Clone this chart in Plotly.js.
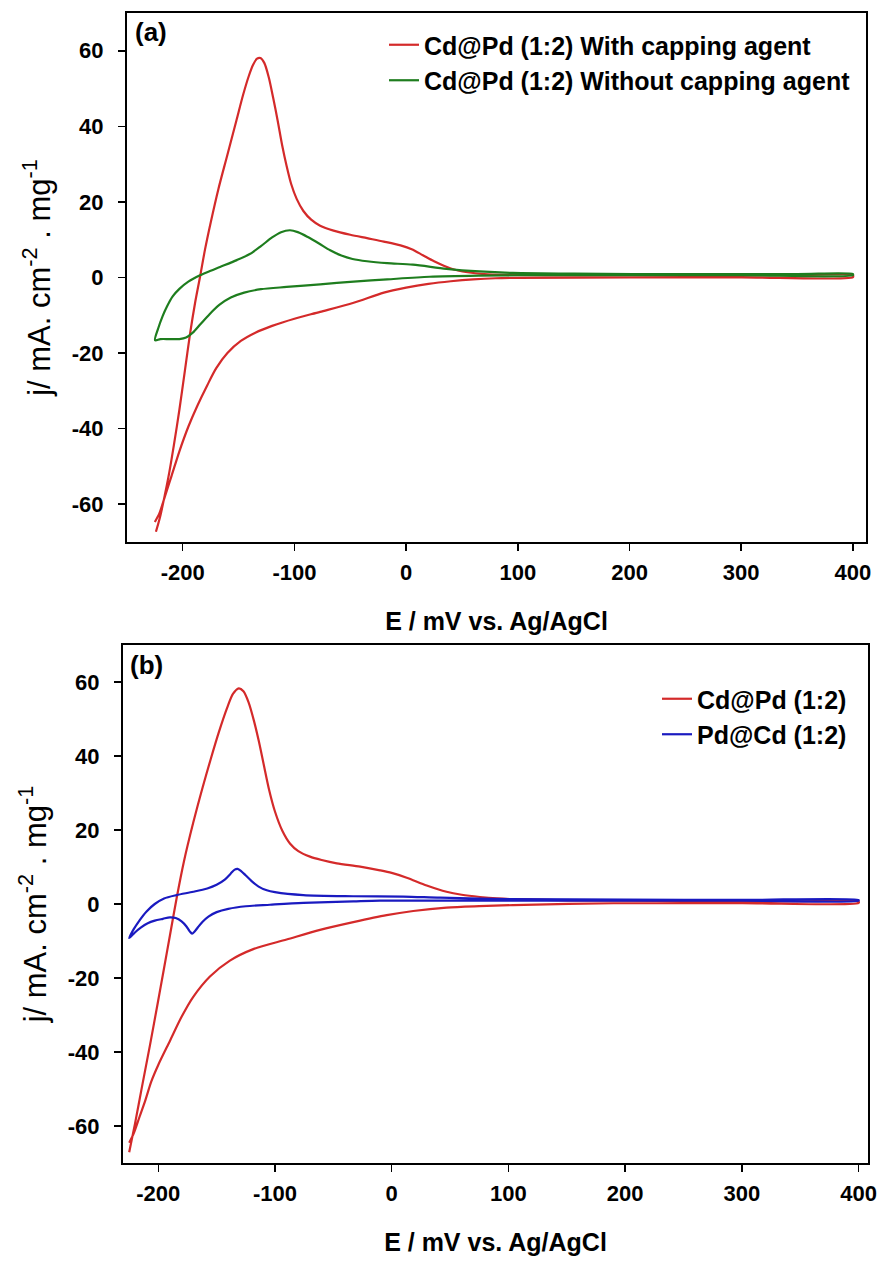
<!DOCTYPE html>
<html><head><meta charset="utf-8">
<script src="https://cdn.plot.ly/plotly-3.0.1.min.js"></script>
<style>html,body{margin:0;padding:0;background:#fff;} #chart{width:881px;height:1275px;}</style>
</head><body><div id="chart"></div>
<script>
// ---------- tick labels ----------
const xTickVals = [-200, -100, 0, 100, 200, 300, 400];
const xTickText = ['-200', '-100', '0', '100', '200', '300', '400'];
const yTickVals = [-60, -40, -20, 0, 20, 40, 60];
const yTickText = ['-60', '-40', '-20', '0', '20', '40', '60'];

// ---------- series names ----------
const namesA = ['Cd@Pd (1:2) With capping agent', 'Cd@Pd (1:2) Without capping agent'];
const namesB = ['Cd@Pd (1:2)', 'Pd@Cd (1:2)'];

// ---------- (a) Cd@Pd with capping agent (anodic sweep, then cathodic sweep) ----------
const capE = [-224, -220.3, -216, -212, -208, -203, -198, -193.4, -189, -184.5, -180, -175, -168, -160, -152, -146, -141, -137, -133.5, -130.5, -127, -123, -119, -115, -111, -107, -103, -98, -92, -85, -77, -65, -50, -35, -20, -5, 5, 15, 25, 40, 55, 70, 90, 150, 250, 350, 400,
  400, 300, 200, 100, 80, 60, 40, 20, 0, -20, -47, -77, -100, -120, -135, -148, -160, -170, -178, -187, -195, -203, -210, -216, -221, -225];
const capJ = [-67.3, -63.4, -57.5, -51.5, -44.5, -35, -24.5, -14.8, -6.8, 0.2, 7.5, 14.5, 23.5, 32.5, 41.5, 48.3, 53.2, 56.3, 57.9, 58.1, 56.8, 53, 47.5, 41.5, 35, 29.5, 24.8, 20.8, 17.6, 15.3, 13.7, 12.4, 11.3, 10.4, 9.5, 8.5, 7.5, 5.9, 4.3, 2.4, 1.4, 0.9, 0.7, 0.6, 0.6, 0.6, 0.6,
  0.1, 0.05, 0, -0.1, -0.2, -0.5, -1.0, -1.7, -2.7, -4.0, -6.7, -9.1, -10.9, -12.8, -14.6, -16.8, -20, -24, -28.5, -34, -39.5, -46, -52.5, -58, -62.5, -64.7];

// ---------- (a) Cd@Pd without capping agent ----------
const noCapE = [-224.8, -222, -218, -214, -209, -203, -195, -184.5, -175, -166.6, -151.6, -140, -130, -120, -112, -104, -97, -88, -78, -68, -58, -48, -35, -17, 6, 36, 65.8, 95.6, 150, 250, 350, 400,
  400, 300, 200, 100, 65.8, 21, -17, -47, -77, -107, -130, -145, -157, -167, -176, -184, -191, -197, -203, -212, -220, -224.8];
const noCapJ = [-16.6, -13.5, -10.2, -7.6, -5.0, -3.0, -1.1, 0.6, 1.8, 2.8, 4.6, 6.2, 8.3, 10.6, 12.0, 12.5, 12.0, 10.7, 9.0, 7.2, 5.8, 4.9, 4.3, 3.8, 3.4, 2.3, 1.6, 1.2, 1.0, 0.9, 0.9, 0.9,
  0.6, 0.6, 0.6, 0.6, 0.5, 0.2, -0.5, -1.1, -1.8, -2.5, -3.1, -4.0, -5.3, -7.2, -9.7, -12.3, -14.6, -15.9, -16.3, -16.3, -16.3, -16.6];

// ---------- (b) Cd@Pd (1:2) ----------
const cdpdE = [-224.9, -220, -214, -207, -200, -195.7, -190, -184.3, -178, -170, -162, -155, -148, -141, -136, -131, -127, -122.6, -118, -113.9, -109.5, -105.2, -100, -93.7, -87, -80, -70, -60, -47, -27, -10, 0, 12.9, 30, 47, 60, 75.6, 90, 104, 150, 250, 350, 400,
  400, 300, 190, 104, 75, 47, 18.5, -4.3, -32.9, -61.4, -90, -118.6, -138.6, -155.7, -170, -180, -190, -200, -206, -211, -216, -221, -224.9];
const cdpdJ = [-67.1, -59.5, -49.5, -38, -26, -18.5, -8.5, 1.5, 11.5, 22, 31.5, 39.2, 46.5, 53, 56.8, 58.3, 57.5, 54.5, 49.5, 44.1, 37.5, 31.1, 25, 19.8, 16.3, 14.3, 12.8, 11.9, 11.0, 10.1, 9.1, 8.4, 7.1, 5.0, 3.3, 2.5, 1.9, 1.5, 1.3, 1.0, 0.8, 0.7, 0.7,
  0.3, 0.2, 0.2, -0.3, -0.6, -1.0, -1.9, -3.0, -4.9, -7.0, -9.6, -12.2, -15.3, -19.6, -25.1, -30.5, -37, -43.5, -48, -53, -57.5, -62, -64.5];

// ---------- (b) Pd@Cd (1:2) ----------
const pdcdE = [-224.9, -221, -216, -210, -203, -195, -184.3, -170, -158, -150, -143, -138, -134.5, -132, -129, -125, -120, -114, -107, -100, -75.7, -32.9, 10, 41.4, 100, 200, 300, 400,
  400, 300, 200, 100, 41.4, -10, -32.9, -75.7, -104.3, -125, -140, -150, -157, -162, -166, -169, -171, -173, -176, -180, -185, -190, -196, -203, -209, -215, -220, -224.9];
const pdcdJ = [-9.2, -6.8, -4.4, -2.0, 0, 1.5, 2.4, 3.3, 4.2, 5.2, 6.6, 8.2, 9.3, 9.5, 8.9, 7.7, 6.2, 4.7, 3.7, 3.2, 2.4, 2.1, 2.0, 1.7, 1.3, 1.2, 1.1, 1.1,
  0.9, 0.9, 0.9, 0.9, 0.9, 0.9, 0.7, 0.3, -0.2, -0.6, -1.3, -2.2, -3.4, -4.8, -6.3, -7.5, -8.0, -7.4, -6.0, -4.7, -3.8, -3.6, -4.0, -4.5, -5.2, -6.4, -7.7, -9.2];

// ---------- styling ----------
const FONT = 'Liberation Sans, Arial, sans-serif';
const RED = '#d42a2a', GREEN = '#1e7d1e', BLUE = '#1a1ac0';
const W = 881, H = 1275;

function line(color) { return {color: color, width: 2.2, shape: 'spline', smoothing: 0.8}; }

const traces = [
  {x: capE, y: capJ, name: namesA[0], mode: 'lines', line: line(RED), xaxis: 'x', yaxis: 'y', legend: 'legend'},
  {x: noCapE, y: noCapJ, name: namesA[1], mode: 'lines', line: line(GREEN), xaxis: 'x', yaxis: 'y', legend: 'legend'},
  {x: cdpdE, y: cdpdJ, name: namesB[0], mode: 'lines', line: line(RED), xaxis: 'x2', yaxis: 'y2', legend: 'legend2'},
  {x: pdcdE, y: pdcdJ, name: namesB[1], mode: 'lines', line: line(BLUE), xaxis: 'x2', yaxis: 'y2', legend: 'legend2'}
];

const tickFont = {family: FONT, size: 22, color: '#000', weight: 'bold'};

function xAxis(domain, range, anchor) {
  return {domain: domain, range: range, anchor: anchor, tickmode: 'array', tickvals: xTickVals, ticktext: xTickText,
    showline: true, mirror: true, linecolor: '#000', linewidth: 2, ticks: 'outside', ticklen: 7, tickwidth: 1.5, tickcolor: '#000',
    showgrid: false, zeroline: false, tickfont: tickFont, ticklabelstandoff: 3,
    title: {text: 'E / mV vs. Ag/AgCl', font: {family: FONT, size: 25, color: '#000', weight: 'bold'}, standoff: 28}};
}
function yAxis(domain, range, anchor) {
  return {domain: domain, range: range, anchor: anchor, tickmode: 'array', tickvals: yTickVals, ticktext: yTickText,
    showline: true, mirror: true, linecolor: '#000', linewidth: 2, ticks: 'outside', ticklen: 7, tickwidth: 1.5, tickcolor: '#000',
    showgrid: false, zeroline: false, tickfont: tickFont, ticklabelstandoff: 10,
    title: {text: 'j/ mA. cm<sup>-2</sup> . mg<sup>-1</sup>', font: {family: FONT, size: 31, color: '#000'}, standoff: 12}};
}

const legendFont = {family: FONT, size: 25, color: '#000', weight: 'bold'};

const layout = {
  width: W, height: H,
  margin: {l: 0, r: 0, t: 0, b: 0, pad: 0},
  paper_bgcolor: '#fff', plot_bgcolor: '#fff',
  showlegend: true,
  xaxis: xAxis([127 / W, 866 / W], [-249.9, 411.7], 'y'),
  yaxis: yAxis([1 - 542 / H, 1 - 13 / H], [-70, 70], 'x'),
  xaxis2: xAxis([123 / W, 868 / W], [-230.2, 408.1], 'y2'),
  yaxis2: yAxis([1 - 1163 / H, 1 - 645 / H], [-70, 70], 'x2'),
  legend: {x: 384 / W, y: 1 - 22 / H, xanchor: 'left', yanchor: 'top', font: legendFont, bgcolor: 'rgba(0,0,0,0)', tracegroupgap: 0},
  legend2: {x: 657 / W, y: 1 - 676 / H, xanchor: 'left', yanchor: 'top', font: legendFont, bgcolor: 'rgba(0,0,0,0)', tracegroupgap: 0},
  annotations: [
    {text: '(a)', xref: 'paper', yref: 'paper', x: 133 / W, y: 1 - 15 / H, xanchor: 'left', yanchor: 'top', showarrow: false, font: {family: FONT, size: 26, color: '#000', weight: 'bold'}},
    {text: '(b)', xref: 'paper', yref: 'paper', x: 128 / W, y: 1 - 648 / H, xanchor: 'left', yanchor: 'top', showarrow: false, font: {family: FONT, size: 26, color: '#000', weight: 'bold'}}
  ]
};

Plotly.newPlot('chart', traces, layout, {displayModeBar: false, staticPlot: true});
</script>
</body></html>
